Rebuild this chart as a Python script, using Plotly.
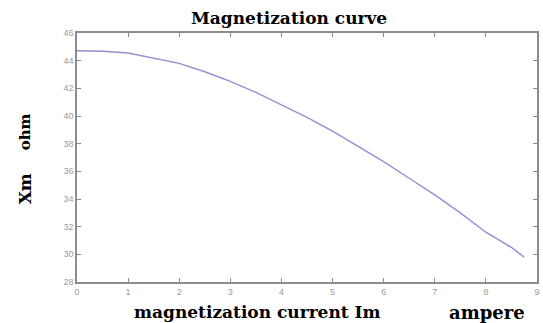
import plotly.graph_objects as go

# Magnetizing current Im (A) and magnetizing reactance Xm (ohm)
im_ampere = [0, 0.5, 1, 1.5, 2, 2.5, 3, 3.5, 4, 4.5, 5, 5.5, 6, 6.5, 7, 7.5, 8, 8.5, 8.75]
xm_ohm = [44.72, 44.68, 44.55, 44.2, 43.8, 43.2, 42.5, 41.7, 40.8, 39.9, 38.9, 37.8,
          36.7, 35.5, 34.3, 33.0, 31.6, 30.5, 29.8]

x_ticks = [0, 1, 2, 3, 4, 5, 6, 7, 8, 9]
y_ticks = [28, 30, 32, 34, 36, 38, 40, 42, 44, 46]

title_text = "Magnetization curve"
xlabel_left = "magnetization current Im"
xlabel_right = "ampere"
ylabel_top = "ohm"
ylabel_bottom = "Xm"

W, H = 543, 323
ML, MR, MT, MB = 77, 3, 33, 41

fig = go.Figure()
fig.add_trace(go.Scatter(
    x=im_ampere, y=xm_ohm, mode="lines",
    line=dict(color="#9090d2", width=1.4),
    showlegend=False,
))

axis_common = dict(
    showgrid=False, zeroline=False, showline=True, mirror="ticks",
    linecolor="#8c8c8c", linewidth=1.5,
    ticks="inside", ticklen=4, tickcolor="#8c8c8c",
    tickfont=dict(family="Liberation Sans", size=9, color="#9a9a9a"),
)

fig.update_xaxes(range=[0, 9], tickvals=x_ticks, **axis_common)
fig.update_yaxes(range=[28, 46], tickvals=y_ticks, **axis_common)

fig.update_layout(
    width=W, height=H,
    margin=dict(l=ML, r=MR, t=MT, b=MB),
    paper_bgcolor="white", plot_bgcolor="white",
)

plot_w = W - ML - MR
plot_h = H - MT - MB


def px_to_paper_x(px):
    return (px - ML) / plot_w


def px_to_paper_y(py):
    return (H - MB - py) / plot_h


def add_label(text, px, py, size, angle=0):
    fig.add_annotation(
        text="<b>%s</b>" % text, x=px_to_paper_x(px), y=px_to_paper_y(py),
        xref="paper", yref="paper", showarrow=False, textangle=angle,
        xanchor="center", yanchor="middle",
        font=dict(family="DejaVu Serif", size=size, color="black"),
    )


add_label(title_text, 290, 18, 17)
add_label(xlabel_left, 258, 312, 17)
add_label(xlabel_right, 490, 312, 18)
add_label(ylabel_top, 25, 132, 15, angle=-90)
add_label(ylabel_bottom, 25, 189, 17, angle=-90)

fig.write_html("out.html")
